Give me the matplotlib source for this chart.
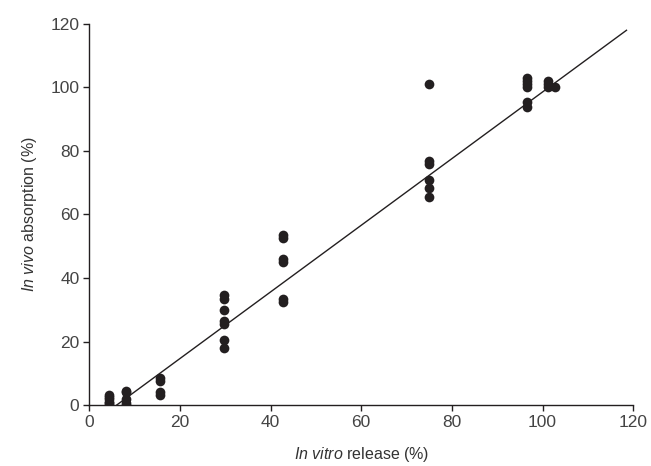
import numpy as np
import matplotlib
matplotlib.use('Agg')
import matplotlib.pyplot as plt

plt.rcParams['font.family'] = ['Liberation Sans', 'DejaVu Sans']
plt.rcParams['mathtext.fontset'] = 'custom'
plt.rcParams['mathtext.rm'] = 'Liberation Sans'
plt.rcParams['mathtext.it'] = 'Liberation Sans:italic'

# in vitro release (%) and in vivo absorption (%)
in_vitro = [4.4, 4.4, 4.4, 4.4, 4.4, 4.4,
            8.1, 8.1, 8.1, 8.1, 8.1,
            15.6, 15.6, 15.6, 15.6,
            29.7, 29.7, 29.7, 29.7, 29.7, 29.7, 29.7,
            42.8, 42.8, 42.8, 42.8, 42.8, 42.8,
            75.0, 75.0, 75.0, 75.0, 75.0, 75.0,
            96.5, 96.5, 96.5, 96.5, 96.5, 96.5,
            101.3, 101.3, 101.3, 102.7]
in_vivo = [0, 0.5, 1, 2, 2.5, 3,
           0, 0.5, 2, 4, 4.5,
           3, 4, 7.5, 8.5,
           34.5, 33.5, 30, 26.5, 25.5, 20.5, 18,
           53.5, 52.5, 46, 45, 33.5, 32.5,
           101, 77, 76, 71, 68.5, 65.5,
           103, 102, 101, 100, 95.5, 94,
           102, 101, 100, 100]

# regression line
slope = 1.05
intercept = -6.4
line_x = np.array([6.1, 118.5])

fig = plt.figure(figsize=(6.51, 4.66), dpi=100)
ax = fig.add_axes([0.1369, 0.1309, 0.8359, 0.8176])

ax.plot(line_x, slope * line_x + intercept, color='#231f20', lw=1.0, zorder=2)
ax.plot(in_vitro, in_vivo, 'o', color='#231f20', ms=7, mew=0, zorder=3)

ax.set_xlim(0, 120)
ax.set_ylim(0, 120)
ax.set_xticks(range(0, 121, 20))
ax.set_yticks(range(0, 121, 20))
for s in ['top', 'right']:
    ax.spines[s].set_visible(False)
for s in ['left', 'bottom']:
    ax.spines[s].set_color('#231f20')
    ax.spines[s].set_linewidth(1.0)
    ax.spines[s].set_clip_on(False)
ax.tick_params(direction='out', length=4, width=1.0, color='#231f20',
               labelsize=12.5, labelcolor='#444444', pad=3)

ax.set_xlabel(r'$\mathit{In\ vitro}$ release (%)', fontsize=11.5,
              color='#333333', labelpad=11)
ax.set_ylabel(r'$\mathit{In\ vivo}$ absorption (%)', fontsize=11.5,
              color='#333333', labelpad=8)

fig.savefig('out.png', dpi=100)
